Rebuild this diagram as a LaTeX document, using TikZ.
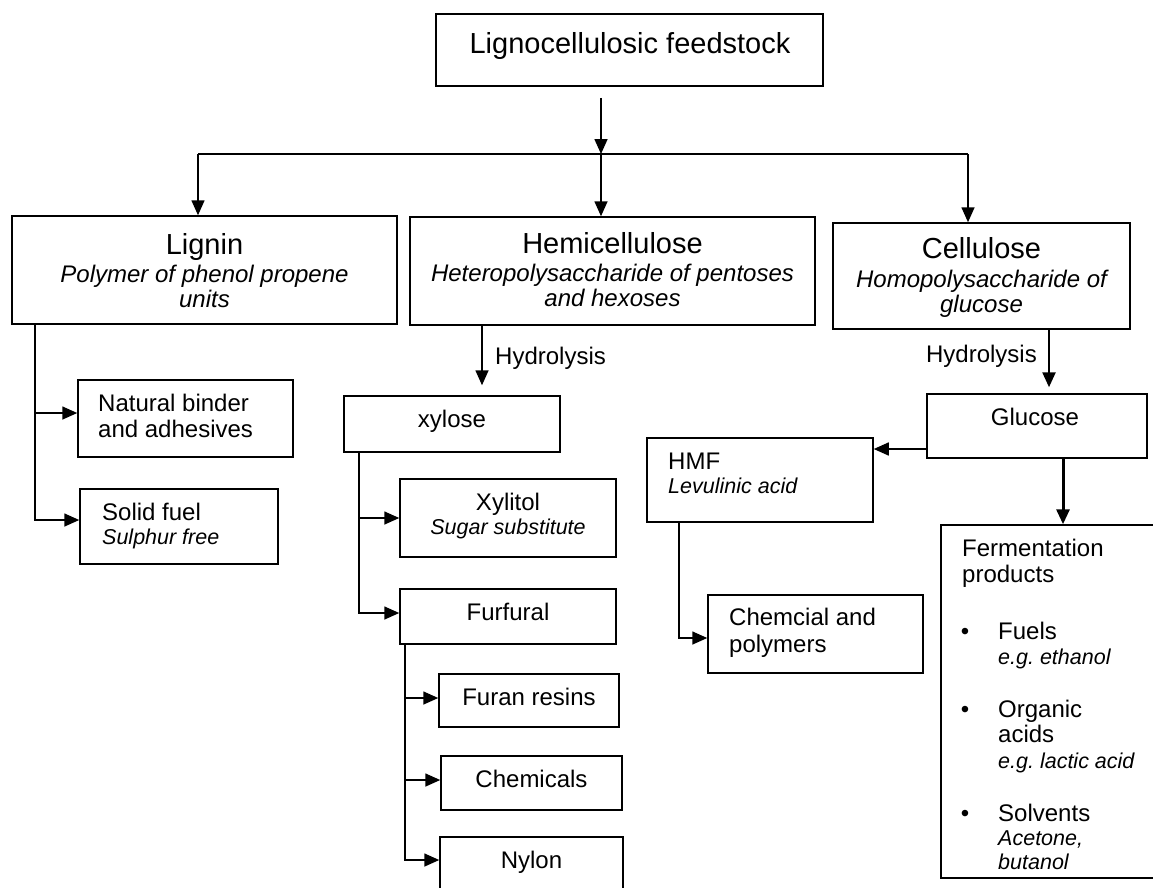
\documentclass[tikz,border=0pt]{standalone}
\usepackage{fontspec}
\setmainfont{Liberation Sans}
\usetikzlibrary{arrows.meta}
\newcommand\smit{\fontsize{21.5}{24}\selectfont\itshape}
\tikzset{
  box/.style={draw, line width=1.5pt, inner sep=0pt},
  txt/.style={inner sep=0pt, anchor=base, font=\fontsize{24}{25}\selectfont},
  big/.style={inner sep=0pt, anchor=base, font=\fontsize{29}{30}\selectfont},
  sub/.style={inner sep=0pt, anchor=base, align=center, font=\fontsize{24}{25}\selectfont\itshape},
  link/.style={line width=1.6pt},
  arr/.style={line width=1.6pt, -{Triangle[length=15pt,width=13pt]}},
}
\begin{document}
\begin{tikzpicture}[x=1pt, y=-1pt]
\useasboundingbox (0,0) rectangle (1153,887);
\clip (0,0) rectangle (1153,887);
\fill[white] (0,0) rectangle (1153,887);

% boxes
\node[box, minimum width=387pt, minimum height=72pt] (top) at (629.5,50) {};
\node[box, minimum width=385pt, minimum height=108pt] (lignin) at (204.5,270) {};
\node[box, minimum width=405pt, minimum height=108pt] (hemi) at (612.5,271) {};
\node[box, minimum width=297pt, minimum height=106pt] (cell) at (981.5,276) {};
\node[box, minimum width=215pt, minimum height=77pt] (binder) at (185.5,418.5) {};
\node[box, minimum width=198pt, minimum height=75pt] (solid) at (179,526.5) {};
\node[box, minimum width=216pt, minimum height=56pt] (xylose) at (452,424) {};
\node[box, minimum width=216pt, minimum height=78pt] (xylitol) at (508,518) {};
\node[box, minimum width=216pt, minimum height=55pt] (furfural) at (508,616.5) {};
\node[box, minimum width=180pt, minimum height=53pt] (furan) at (529,700.5) {};
\node[box, minimum width=181pt, minimum height=54pt] (chemicals) at (531.5,783) {};
\node[box, minimum width=183pt, minimum height=56pt] (nylon) at (531.5,865) {};
\node[box, minimum width=226pt, minimum height=84pt] (hmf) at (760,480) {};
\node[box, minimum width=215pt, minimum height=78pt] (chem) at (815.5,634) {};
\node[box, minimum width=220pt, minimum height=64pt] (glucose) at (1037,426) {};
\node[box, minimum width=229pt, minimum height=353pt] (ferm) at (1055.5,701.5) {};

% texts (multi-line nodes are placed by the baseline of their last line)
\node[big] (t0) at (630,53) {Lignocellulosic feedstock};
\node[big] (t1) at (204.5,254) {Lignin};
\node[sub] (t1s) at (204.5,307) {Polymer of phenol propene\\units};
\node[big] (t2) at (612.5,253) {Hemicellulose};
\node[sub] (t2s) at (612.5,306) {Heteropolysaccharide of pentoses\\and hexoses};
\node[big] (t3) at (981.5,258) {Cellulose};
\node[sub] (t3s) at (981.5,312) {Homopolysaccharide of\\glucose};
\node[txt, anchor=base west, align=left, font=\fontsize{24}{26}\selectfont] (tb) at (98,437) {Natural binder\\and adhesives};
\node[txt, anchor=base west, align=left, font=\fontsize{24}{24}\selectfont] (ts) at (102,544) {Solid fuel\\{\smit Sulphur free}};
\node[txt] (tx) at (452,427) {xylose};
\node[txt, align=center, font=\fontsize{24}{24}\selectfont] (txl) at (508,534) {Xylitol\\{\smit Sugar substitute}};
\node[txt] (tf) at (508,620) {Furfural};
\node[txt] (tfr) at (529,705) {Furan resins};
\node[txt] (tch) at (531.5,787) {Chemicals};
\node[txt] (tny) at (531.5,868) {Nylon};
\node[txt, anchor=base west, align=left, font=\fontsize{24}{24}\selectfont] (th) at (668,493) {HMF\\{\smit Levulinic acid}};
\node[txt, anchor=base west, align=left, font=\fontsize{24}{27}\selectfont] (tcp) at (729,652) {Chemcial and\\polymers};
\node[txt] (tg) at (1035,425) {Glucose};
\node[txt, anchor=base west, align=left, font=\fontsize{24}{26}\selectfont] (tfe) at (962,582) {Fermentation\\products};
\node[txt] (b1) at (965,639) {\textbullet};
\node[txt] (b2) at (965,717) {\textbullet};
\node[txt] (b3) at (965,821) {\textbullet};
\node[txt, anchor=base west, align=left, font=\fontsize{24}{25}\selectfont] (i1) at (998,664) {Fuels\\{\smit e.g.\ ethanol}};
\node[txt, anchor=base west, align=left, font=\fontsize{24}{25.5}\selectfont] (i2) at (998,768) {Organic\\acids\\{\smit e.g.\ lactic acid}};
\node[txt, anchor=base west, align=left, font=\fontsize{24}{24}\selectfont] (i3) at (998,869) {Solvents\\{\smit Acetone,}\\{\smit butanol}};
\node[txt, anchor=base west] (hy1) at (495,364) {Hydrolysis};
\node[txt, anchor=base east] (hy2) at (1037,362) {Hydrolysis};

% junction coordinates
\coordinate (barL) at (198,154);
\coordinate (barM) at (601,154);
\coordinate (barR) at (968,154);
\coordinate (ligX) at (35,0);
\coordinate (hemX) at (482,0);
\coordinate (xylX) at (359,0);
\coordinate (furX) at (405,0);
\coordinate (hmfX) at (679,0);
\coordinate (celX) at (1049,0);
\coordinate (gfX) at (1063,0);

% connectors
\draw[arr, shorten <=11pt] (top.south -| barM) -- (barM);
\draw[link] (barL) -- (barR);
\draw[arr] (barL) -- (barL |- lignin.north);
\draw[arr] (barM) -- (barM |- hemi.north);
\draw[arr] (barR) -- (barR |- cell.north);

\draw[arr] (lignin.south -| ligX) |- ([yshift=5.5pt]binder.west);
\draw[arr] (lignin.south -| ligX) |- ([yshift=6.5pt]solid.west);

\draw[arr, shorten >=10pt] (hemi.south -| hemX) -- (xylose.north -| hemX);
\draw[arr] (xylose.south -| xylX) |- (xylitol.west);
\draw[arr] (xylose.south -| xylX) |- ([yshift=3.5pt]furfural.west);
\draw[arr] (furfural.south -| furX) |- ([yshift=2.5pt]furan.west);
\draw[arr] (furfural.south -| furX) |- ([yshift=3pt]chemicals.west);
\draw[arr] (furfural.south -| furX) |- ([yshift=5pt]nylon.west);

\draw[arr, line width=2.4pt, shorten >=6pt] (cell.south -| celX) -- (glucose.north -| celX);
\draw[arr] ([yshift=-23pt]glucose.west) -- ([yshift=-23pt]glucose.west -| hmf.east);
\draw[arr, line width=3pt] (glucose.south -| gfX) -- (ferm.north -| gfX);
\draw[arr] (hmf.south -| hmfX) |- ([yshift=-4pt]chem.west);
\end{tikzpicture}
\end{document}
